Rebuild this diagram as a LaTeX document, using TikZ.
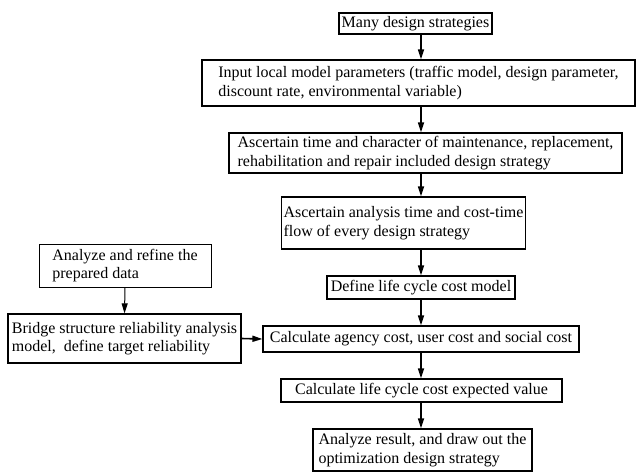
\documentclass[tikz,border=0pt]{standalone}
\usepackage{fontspec}
\setmainfont{Liberation Serif}
\usetikzlibrary{arrows.meta}

\begin{document}
\begin{tikzpicture}[x=1pt,y=-1pt,
    box/.style={draw,line width=1.2pt,align=left,inner xsep=2pt,inner ysep=1pt,
        font=\fontsize{16}{18.5}\selectfont},
    arr/.style={line width=1.6pt,-{Triangle[length=10pt,width=6pt]}}]
    \useasboundingbox (0,0) rectangle (636,472);
    \node[box,minimum width=153,minimum height=21] (many) at (415.5,23.5) {Many design strategies};
    \node[box,minimum width=433,minimum height=46] (input) at (418.5,83)
        {Input local model parameters (traffic model, design parameter,\\discount rate, environmental variable)};
    \node[box,minimum width=393,minimum height=40] (char) at (425.5,153)
        {Ascertain time and character of maintenance, replacement,\\rehabilitation and repair included design strategy};
    \node[box,minimum width=231,minimum height=52] (flow) at (403.5,223)
        {Ascertain analysis time and cost-time\\flow of every design strategy};
    \node[box,minimum width=188,minimum height=23] (model) at (421,287.5) {Define life cycle cost model};
    \node[box,minimum width=316,minimum height=26] (cost) at (421,339)
        {Calculate agency cost, user cost and social cost};
    \node[box,minimum width=281,minimum height=23] (value) at (421.5,390.5)
        {Calculate life cycle cost expected value};
    \node[box,minimum width=219,minimum height=42] (result) at (422.5,450)
        {Analyze result, and draw out the\\optimization design strategy};
    \node[box,line width=0.9pt,minimum width=172,minimum height=43] (data) at (125,265.5)
        {Analyze and refine the\\prepared data};
    \node[box,minimum width=233,minimum height=49] (rel) at (124.5,338.5)
        {Bridge structure reliability analysis\\model,\ \ define target reliability};
    \coordinate (axis) at (421,0);
    \draw[arr] (axis |- many.south) -- (axis |- input.north);
    \draw[arr] (axis |- input.south) -- (axis |- char.north);
    \draw[arr] (axis |- char.south) -- (axis |- flow.north);
    \draw[arr] (axis |- flow.south) -- (axis |- model.north);
    \draw[arr] (axis |- model.south) -- (axis |- cost.north);
    \draw[arr] (axis |- cost.south) -- (axis |- value.north);
    \draw[arr] (axis |- value.south) -- (axis |- result.north);
    \draw[arr,line width=1pt] (data.south) -- (rel.north);
    \draw[arr] (rel.east) -- (cost.west);
\end{tikzpicture}
\end{document}
